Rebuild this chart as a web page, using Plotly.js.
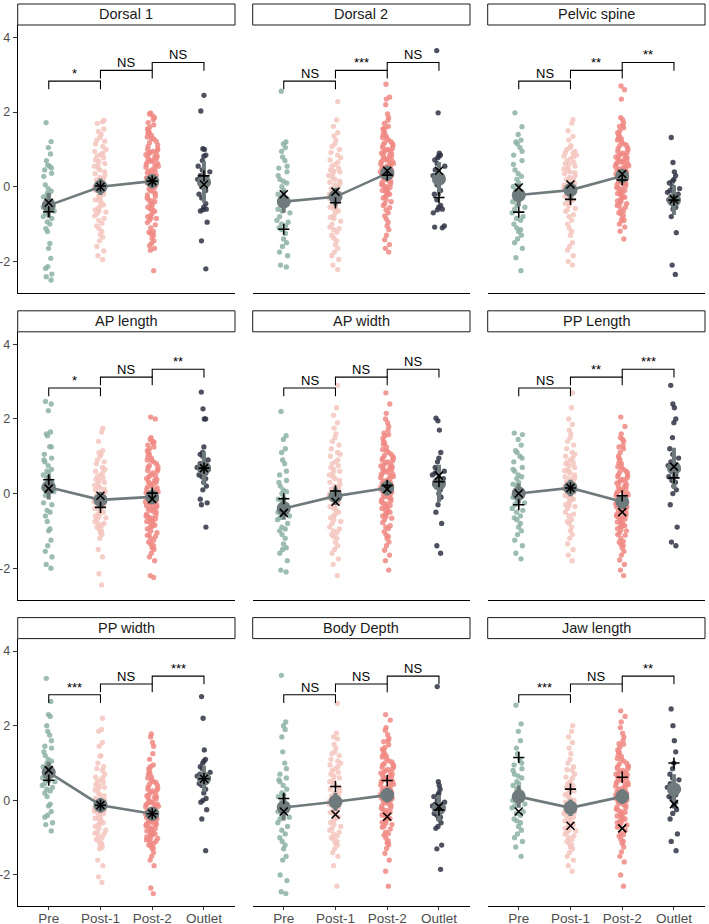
<!DOCTYPE html>
<html>
<head>
<meta charset="utf-8">
<script src="https://cdn.plot.ly/plotly-3.0.1.min.js"></script>
<style>
  html, body { margin: 0; padding: 0; background: #ffffff; }
  #chart { width: 709px; height: 924px; }
</style>
</head>
<body>
<div id="chart"></div>
<script>
// ---- categories and panel names ----
const groups = ['Pre', 'Post-1', 'Post-2', 'Outlet'];
const panelTitles = ['Dorsal 1', 'Dorsal 2', 'Pelvic spine',
                     'AP length', 'AP width', 'PP Length',
                     'PP width', 'Body Depth', 'Jaw length'];
const yTickVals = [-2, 0, 2, 4];
const yTickText = ['-2', '0', '2', '4'];

// ---- individual standardised measurements ----
const dorsal1_pre = [1.72,1.21,1.05,0.88,0.7,0.58,0.55,0.5,0.45,0.36,0.28,0.05,-0.05,-0.12,-0.18,-0.22,-0.27,-0.3,-0.36,-0.4,-0.45,-0.5,-0.55,-0.58,-0.65,-0.71,-0.8,-0.85,-0.94,-1.0,-1.12,-1.2,-1.52,-1.65,-1.92,-2.14,-2.19,-2.34,-2.41,-2.5];
const dorsal1_post1 = [1.78,1.74,1.7,1.55,1.48,1.4,1.32,1.22,1.15,1.08,1.0,0.95,0.9,0.86,0.82,0.78,0.72,0.68,0.62,0.58,0.5,0.45,0.4,0.35,0.3,0.22,0.18,0.12,0.08,0.03,-0.02,-0.06,-0.1,-0.15,-0.2,-0.25,-0.3,-0.36,-0.42,-0.48,-0.52,-0.58,-0.62,-0.68,-0.72,-0.78,-0.85,-0.9,-0.98,-1.05,-1.12,-1.2,-1.28,-1.35,-1.45,-1.6,-1.72,-1.85,-1.95,0.25,0.55,-0.35,0.0,1.25,-0.65];
const dorsal1_post2 = [1.98,1.95,1.9,1.85,1.8,1.72,1.66,1.6,1.55,1.5,1.45,1.42,1.38,1.33,1.28,1.22,1.18,1.12,1.08,1.02,0.98,0.95,0.9,0.86,0.82,0.78,0.75,0.7,0.66,0.62,0.58,0.55,0.5,0.46,0.42,0.38,0.35,0.3,0.26,0.22,0.18,0.15,0.1,0.06,0.02,-0.02,-0.06,-0.1,-0.14,-0.18,-0.22,-0.26,-0.3,-0.35,-0.4,-0.45,-0.5,-0.55,-0.6,-0.66,-0.72,-0.78,-0.84,-0.9,-0.96,-1.02,-1.1,-1.2,-1.25,-1.3,-1.38,-1.45,-1.52,-1.58,-1.65,-1.7,-2.25,0.72,0.88,1.0,0.52,0.4,0.24,0.68,0.92,1.3,-0.8,-0.85,-1.22,0.6,0.8,-0.38,-0.62];
const dorsal1_outlet = [2.45,2.03,1.02,1.0,0.85,0.82,0.7,0.55,0.45,0.4,0.3,0.2,0.1,0.0,-0.1,-0.2,-0.3,-0.45,-0.55,-0.6,-0.65,-0.62,-0.95,-1.45,-2.2];

const dorsal2_pre = [2.56,1.2,1.15,1.05,0.95,0.8,0.7,0.55,0.5,0.4,0.3,0.2,0.1,0.0,-0.1,-0.2,-0.3,-0.4,-0.5,-0.6,-0.7,-0.8,-0.9,-1.0,-1.05,-1.15,-1.25,-1.4,-1.5,-1.6,-1.75,-1.85,-2.1,-2.15,-0.25,-0.45,-0.65,-1.1,-0.95,0.15];
const dorsal2_post1 = [2.28,1.79,1.62,1.45,1.36,1.25,1.15,1.08,1.0,0.92,0.85,0.78,0.72,0.66,0.6,0.55,0.5,0.45,0.4,0.35,0.3,0.25,0.2,0.15,0.1,0.05,0.0,-0.05,-0.1,-0.15,-0.2,-0.25,-0.3,-0.35,-0.4,-0.45,-0.5,-0.55,-0.6,-0.65,-0.7,-0.78,-0.85,-0.92,-1.0,-1.08,-1.15,-1.22,-1.3,-1.38,-1.45,-1.55,-1.65,-1.75,-1.85,-1.95,-2.1,-2.22,0.42,0.12,-0.32,-0.58,-0.82,-1.12,-0.18];
const dorsal2_post2 = [2.75,2.4,2.35,2.2,1.95,1.85,1.78,1.7,1.62,1.55,1.5,1.45,1.4,1.35,1.3,1.25,1.2,1.15,1.1,1.05,1.0,0.96,0.92,0.88,0.84,0.8,0.76,0.72,0.68,0.64,0.6,0.56,0.52,0.48,0.44,0.4,0.36,0.32,0.28,0.24,0.2,0.16,0.12,0.08,0.04,0.0,-0.04,-0.08,-0.12,-0.16,-0.2,-0.25,-0.3,-0.35,-0.4,-0.45,-0.5,-0.56,-0.62,-0.7,-0.78,-0.86,-0.95,-1.05,-1.15,-1.3,-1.42,-1.55,-1.65,-1.75,0.9,1.02,0.66,0.58,0.46,0.34,0.5,0.7,0.82,1.18,1.32,0.14,0.26,-0.1,-0.22,0.62,0.74,0.98,1.12,0.38,0.3,-0.02,0.06,1.58,0.42];
const dorsal2_outlet = [3.65,1.98,0.85,0.82,0.78,0.72,0.62,0.55,0.45,0.3,0.2,0.05,-0.1,-0.2,-0.35,-0.5,-0.55,-0.6,-0.62,-0.7,-1.05,-1.08,-1.1,0.9];

const pelvic_pre = [1.98,1.61,1.4,1.25,1.2,1.15,1.05,0.85,0.6,0.45,0.35,0.2,0.1,0.0,-0.1,-0.2,-0.3,-0.4,-0.5,-0.6,-0.7,-0.8,-0.9,-1.0,-1.15,-1.3,-1.4,-1.5,-1.65,-1.9,-2.25,0.95,0.7,-0.15,-0.35,-0.55,-0.85,-1.2,-1.1,0.28];
const pelvic_post1 = [1.8,1.7,1.5,1.35,1.25,1.1,1.05,1.0,0.95,0.9,0.85,0.8,0.75,0.7,0.65,0.6,0.55,0.5,0.45,0.4,0.35,0.3,0.25,0.2,0.15,0.1,0.05,0.0,-0.05,-0.1,-0.15,-0.2,-0.25,-0.3,-0.35,-0.4,-0.45,-0.5,-0.58,-0.66,-0.75,-0.8,-0.9,-1.0,-1.1,-1.2,-1.3,-1.5,-1.6,-1.7,-1.85,-2.0,-2.1,0.62,0.38,0.12,-0.12,0.48,0.22,-0.28,0.82,-0.02,0.92,-0.42,-0.62];
const pelvic_post2 = [2.7,2.6,2.35,1.85,1.8,1.72,1.65,1.58,1.5,1.45,1.4,1.35,1.3,1.25,1.2,1.15,1.1,1.05,1.0,0.95,0.9,0.86,0.82,0.78,0.74,0.7,0.66,0.62,0.58,0.54,0.5,0.46,0.42,0.38,0.34,0.3,0.26,0.22,0.18,0.14,0.1,0.06,0.02,-0.02,-0.06,-0.1,-0.14,-0.18,-0.22,-0.26,-0.3,-0.35,-0.4,-0.45,-0.5,-0.55,-0.6,-0.66,-0.72,-0.78,-0.85,-0.92,-1.0,-1.08,-1.19,-1.4,0.4,0.52,0.64,0.76,0.88,1.02,0.32,0.2,0.08,-0.04,-0.16,-0.28,0.44,0.56,0.68,0.8,0.92,1.12,1.28,-0.38,-0.48,-0.7,-0.9,0.12,0.28,0.48,0.6,0.72,1.62];
const pelvic_outlet = [1.32,0.65,0.4,0.3,0.2,0.1,0.0,-0.1,-0.2,-0.25,-0.3,-0.35,-0.4,-0.45,-0.5,-0.55,-0.6,-0.8,-1.23,-2.1,-2.35,-0.15,-0.05,0.15];

const apLength_pre = [2.47,2.4,2.22,1.65,1.6,1.55,1.26,1.25,0.95,0.9,0.75,0.6,0.5,0.35,0.2,0.1,-0.25,-0.45,-0.5,-0.75,-0.95,-1.0,-1.25,-1.4,-1.55,-1.7,-1.9,-2.0,0.55,0.42,0.3,0.25,0.15,0.05,-0.05,-0.6,0.85,1.05,-0.3,0.65];
const apLength_post1 = [1.75,1.65,1.4,1.15,1.1,1.0,0.9,0.8,0.7,0.6,0.5,0.42,0.35,0.28,0.2,0.12,0.05,0.0,-0.05,-0.1,-0.15,-0.2,-0.25,-0.3,-0.35,-0.4,-0.45,-0.5,-0.55,-0.6,-0.65,-0.7,-0.75,-0.8,-0.85,-0.9,-0.95,-1.0,-1.1,-1.2,-1.5,-1.7,-2.15,-2.45,0.3,0.22,0.1,-0.02,-0.12,-0.22,-0.32,0.45,0.65,0.85,-0.42,-0.62,-0.82,1.05,0.15,-0.08,0.38,0.55,-0.28,-1.05,-0.52];
const apLength_post2 = [2.05,2.0,1.5,1.45,1.4,1.35,1.3,1.25,1.2,1.15,1.1,1.05,1.0,0.95,0.9,0.85,0.8,0.75,0.7,0.65,0.6,0.55,0.5,0.45,0.4,0.35,0.3,0.25,0.2,0.15,0.1,0.05,0.0,-0.05,-0.1,-0.15,-0.2,-0.25,-0.3,-0.35,-0.4,-0.45,-0.5,-0.55,-0.6,-0.65,-0.7,-0.75,-0.8,-0.85,-0.9,-0.95,-1.0,-1.05,-1.1,-1.15,-1.2,-1.25,-1.3,-1.35,-1.4,-1.5,-1.6,-1.7,-1.8,-2.2,-2.25,0.62,0.48,0.32,0.18,0.02,-0.12,-0.28,-0.42,-0.58,-0.72,-0.88,0.88,0.72,0.38,-0.18,-0.32,-0.48,-0.62,-0.78,-1.12,-0.02,0.12,0.28,-0.22,-0.38,-0.68,-1.45,1.38];
const apLength_outlet = [2.72,2.27,2.0,2.0,1.25,1.1,1.05,1.0,0.9,0.8,0.7,0.6,0.5,0.4,0.3,0.1,-0.15,-0.25,-0.3,-0.9,0.65,0.55,0.45,0.2];

const apWidth_pre = [2.2,1.55,1.45,1.2,1.1,0.9,0.8,0.6,0.5,0.35,0.2,0.1,0.0,-0.1,-0.2,-0.3,-0.4,-0.5,-0.6,-0.7,-0.8,-0.9,-1.0,-1.1,-1.2,-1.35,-1.5,-1.6,-1.8,-2.05,-2.1,-0.45,-0.55,-0.65,-0.25,-0.15,0.05,-1.45,-0.95,0.3];
const apWidth_post1 = [2.9,2.3,2.1,1.9,1.75,1.6,1.5,1.4,1.3,1.2,1.1,1.0,0.9,0.8,0.7,0.6,0.5,0.4,0.3,0.2,0.1,0.0,-0.1,-0.2,-0.3,-0.4,-0.5,-0.6,-0.7,-0.8,-0.9,-1.0,-1.1,-1.2,-1.3,-1.4,-1.5,-1.6,-1.75,-1.9,-2.2,0.45,0.25,0.05,-0.15,-0.35,-0.55,0.65,0.85,-0.05,-0.25,-0.45,-0.75,0.15,0.35,-0.65,-0.95,1.05,-1.15,0.55,-0.02,0.12,-0.32,-1.05,0.75];
const apWidth_post2 = [2.7,2.4,2.15,2.0,1.9,1.8,1.7,1.62,1.55,1.48,1.4,1.32,1.25,1.18,1.1,1.02,0.95,0.88,0.82,0.76,0.7,0.64,0.58,0.52,0.46,0.4,0.34,0.28,0.22,0.16,0.1,0.04,-0.02,-0.08,-0.14,-0.2,-0.26,-0.32,-0.38,-0.44,-0.5,-0.56,-0.62,-0.7,-0.78,-0.86,-0.94,-1.02,-1.1,-1.2,-1.3,-1.4,-1.52,-1.65,-1.8,-2.05,0.3,0.42,0.54,0.66,0.78,0.9,1.05,0.2,0.08,-0.04,-0.16,-0.28,-0.4,0.36,0.48,0.6,0.72,0.85,0.98,1.15,-0.52,-0.66,-0.9,0.12,0.26,-0.1,-0.22,0.5,0.62,0.74,1.36,1.58,-0.34,-1.15,-0.46,0.02,0.14,0.94,-0.6];
const apWidth_outlet = [2.02,1.95,1.7,1.1,0.95,0.85,0.7,0.6,0.5,0.4,0.35,0.3,0.2,0.1,0.0,-0.1,-0.3,-0.5,-0.8,-1.4,-1.6,0.55,0.25,0.65];

const ppLength_pre = [1.62,1.58,1.45,1.3,1.15,1.0,0.85,0.7,0.6,0.5,0.4,0.3,0.2,0.1,0.0,-0.1,-0.2,-0.3,-0.4,-0.5,-0.6,-0.7,-0.8,-0.9,-1.0,-1.1,-1.25,-1.4,-1.6,-1.75,0.25,0.05,-0.05,-0.25,0.45,0.65,-0.45,-0.65,0.95,1.1];
const ppLength_post1 = [2.7,2.3,2.0,1.85,1.7,1.6,1.5,1.4,1.3,1.2,1.1,1.0,0.95,0.9,0.85,0.8,0.75,0.7,0.65,0.6,0.55,0.5,0.45,0.4,0.35,0.3,0.25,0.2,0.15,0.1,0.05,0.0,-0.05,-0.1,-0.15,-0.2,-0.25,-0.3,-0.35,-0.4,-0.5,-0.6,-0.7,-0.8,-0.9,-1.0,-1.1,-1.2,-1.35,-1.5,-1.65,-1.8,0.42,0.22,0.02,-0.12,-0.32,0.62,0.82,-0.55,-0.75,0.32,0.12,-0.02,1.05];
const ppLength_post2 = [2.05,1.8,1.6,1.5,1.4,1.3,1.2,1.1,1.0,0.9,0.8,0.72,0.65,0.58,0.5,0.42,0.35,0.28,0.2,0.12,0.05,-0.02,-0.1,-0.16,-0.22,-0.28,-0.34,-0.4,-0.46,-0.52,-0.58,-0.64,-0.7,-0.76,-0.82,-0.88,-0.94,-1.0,-1.06,-1.12,-1.2,-1.28,-1.36,-1.45,-1.55,-1.65,-1.78,-1.9,-2.05,-2.2,0.6,0.45,0.3,0.15,0.0,-0.12,-0.25,-0.38,-0.5,-0.62,-0.74,-0.86,-0.98,0.95,0.82,0.7,0.38,0.24,0.08,-0.06,-0.2,-0.32,-0.44,-0.56,-0.68,-1.1,-1.3,0.55,0.18,-0.04,-0.3,-0.6,-0.9,1.25,0.48,0.1,-0.14,-0.36,-0.8,-1.4,0.32,-0.48,0.02,-0.26,1.45];
const ppLength_outlet = [2.9,2.4,2.3,2.0,1.9,1.5,1.2,1.05,0.95,0.85,0.75,0.6,0.5,0.45,0.35,0.2,0.1,0.0,-0.3,-0.9,-1.3,-1.4,0.65,0.3];

const ppWidth_pre = [3.27,2.65,2.3,2.25,2.0,1.85,1.75,1.6,1.45,1.4,1.2,1.05,1.0,0.9,0.8,0.7,0.6,0.5,0.4,0.3,0.2,0.1,-0.1,-0.15,-0.3,-0.4,-0.45,-0.6,-0.65,-0.82,0.95,0.85,0.75,0.65,0.55,0.35,1.1,1.3,0.25,0.45];
const ppWidth_post1 = [2.2,1.9,1.85,1.55,1.45,1.2,1.18,1.0,0.9,0.8,0.7,0.6,0.5,0.42,0.35,0.28,0.2,0.12,0.05,0.0,-0.05,-0.1,-0.15,-0.2,-0.25,-0.3,-0.35,-0.4,-0.45,-0.5,-0.55,-0.6,-0.65,-0.7,-0.75,-0.8,-0.85,-0.9,-0.95,-1.0,-1.05,-1.1,-1.15,-1.2,-1.25,-1.3,-1.6,-1.75,-2.05,-2.2,0.62,0.48,0.32,0.15,-0.02,-0.18,-0.32,-0.48,-0.62,0.85,0.55,0.38,-0.08,-0.28,-0.88];
const ppWidth_post2 = [1.78,1.7,1.55,1.45,1.25,1.1,0.95,0.85,0.78,0.7,0.62,0.55,0.48,0.4,0.32,0.25,0.18,0.1,0.04,-0.02,-0.08,-0.14,-0.2,-0.26,-0.32,-0.38,-0.44,-0.5,-0.56,-0.62,-0.68,-0.74,-0.8,-0.86,-0.92,-0.98,-1.04,-1.1,-1.16,-1.22,-1.3,-1.4,-1.5,-1.6,-1.75,-2.35,-2.5,0.5,0.36,0.22,0.08,-0.06,-0.18,-0.3,-0.42,-0.54,-0.66,-0.78,-0.9,-1.02,0.6,0.44,0.28,0.12,-0.04,-0.16,-0.28,-0.4,-0.52,-0.64,-0.76,-0.88,-1.0,-1.12,0.72,0.15,-0.1,-0.34,-0.58,-0.82,-1.06,-1.2,0.3,-0.22,-0.46,-0.7,-0.94,0.05,-0.36,-0.6,-1.28,0.9,-0.12];
const ppWidth_outlet = [2.78,2.2,1.35,1.1,1.05,1.0,0.9,0.75,0.6,0.5,0.4,0.3,0.2,0.05,0.0,-0.05,-0.25,-0.5,-1.35,0.85,0.65,0.55,0.45,0.7];

const bodyDepth_pre = [3.35,2.1,2.0,1.9,1.7,1.3,1.0,0.85,0.7,0.6,0.55,0.5,0.3,0.2,0.0,-0.2,-0.4,-0.5,-0.6,-0.8,-0.9,-1.1,-1.2,-1.5,-1.6,-2.0,-2.15,-2.5,-2.45,-0.1,-0.3,0.1,-0.7,-1.0,0.4,-0.05,-0.25,-0.45,0.15,-1.3];
const bodyDepth_post1 = [2.6,1.8,1.7,1.65,1.5,1.4,1.3,1.2,1.1,1.0,0.9,0.8,0.7,0.6,0.5,0.4,0.3,0.2,0.1,0.0,-0.1,-0.2,-0.3,-0.4,-0.5,-0.6,-0.7,-0.8,-0.9,-1.0,-1.1,-1.2,-1.3,-1.4,-1.5,-1.75,-2.3,0.45,0.25,0.05,-0.15,-0.35,-0.55,0.65,0.85,-0.05,-0.25,-0.45,-0.75,0.15,0.35,-0.65,-0.95,1.05,-1.15,0.55,-0.02,0.12,-0.32,-1.05,0.75,0.95,-0.85,1.25,-0.12];
const bodyDepth_post2 = [2.3,2.15,1.95,1.88,1.76,1.66,1.57,1.49,1.41,1.33,1.26,1.19,1.11,1.03,0.96,0.89,0.83,0.77,0.71,0.65,0.59,0.53,0.47,0.41,0.35,0.29,0.23,0.17,0.11,0.05,-0.01,-0.07,-0.13,-0.19,-0.25,-0.31,-0.37,-0.43,-0.49,-0.55,-0.61,-0.69,-0.77,-0.85,-0.93,-1.01,-1.09,-1.19,-1.29,-1.42,-1.6,-1.9,-2.3,0.31,0.43,0.55,0.67,0.79,0.91,1.06,0.21,0.09,-0.03,-0.15,-0.27,-0.39,0.37,0.49,0.61,0.73,0.86,0.99,1.16,-0.51,-0.65,-0.89,0.13,0.27,-0.09,-0.21,0.51,0.63,0.75,1.37,1.6,-0.33,-1.14,-0.45,0.03,0.15,0.95,-0.59,1.22,0.06,-0.72];
const bodyDepth_outlet = [3.05,0.5,0.4,0.3,0.15,0.0,-0.1,-0.2,-0.4,-0.6,-0.7,-0.75,-1.2,-1.3,-1.85,-0.05,-0.15,-0.25,-0.3,-0.35,0.1,0.2,-0.45,-0.5];

const jaw_pre = [2.55,2.05,1.85,1.6,1.4,1.25,1.1,0.95,0.8,0.7,0.6,0.5,0.4,0.3,0.2,0.1,0.0,-0.1,-0.2,-0.3,-0.4,-0.5,-0.6,-0.7,-0.8,-0.9,-1.0,-1.1,-1.25,-1.5,0.25,0.05,-0.15,-0.35,0.45,0.65,-0.55,0.85,1.0,-0.05];
const jaw_post1 = [2.0,1.85,1.7,1.55,1.4,1.25,1.1,1.0,0.9,0.8,0.7,0.6,0.5,0.4,0.3,0.2,0.1,0.0,-0.1,-0.2,-0.3,-0.4,-0.5,-0.6,-0.7,-0.8,-0.9,-1.0,-1.1,-1.2,-1.3,-1.4,-1.5,-1.6,-1.75,-1.9,-0.15,-0.25,-0.35,-0.45,-0.55,-0.65,-0.75,-0.85,-0.95,0.05,0.15,0.25,0.35,0.45,-0.05,-0.12,-0.22,-0.32,-0.42,-0.62,-0.82,-1.05,-1.25,0.62,0.82,-0.28,-0.48,-0.68,-1.15];
const jaw_post2 = [2.4,2.25,2.1,1.95,1.8,1.7,1.6,1.5,1.42,1.35,1.28,1.2,1.12,1.05,0.98,0.9,0.84,0.78,0.72,0.66,0.6,0.54,0.48,0.42,0.36,0.3,0.24,0.18,0.12,0.06,0.0,-0.06,-0.12,-0.18,-0.24,-0.3,-0.36,-0.42,-0.48,-0.54,-0.6,-0.66,-0.72,-0.8,-0.88,-0.96,-1.05,-1.15,-1.25,-1.38,-1.5,-1.65,-2.0,-2.3,0.26,0.38,0.5,0.62,0.74,0.86,1.0,0.16,0.04,-0.08,-0.2,-0.32,-0.44,0.32,0.44,0.56,0.68,0.8,0.92,1.1,-0.56,-0.7,-0.92,0.1,0.22,-0.14,-0.26,0.46,0.58,0.7,1.3,1.52,-0.38,-1.1,-0.5,0.0,0.14,0.9,-0.62,1.18,-0.02];
const jaw_outlet = [2.45,2.0,1.6,1.3,1.0,0.85,0.7,0.55,0.45,0.35,0.25,0.15,0.05,-0.05,-0.15,-0.25,-0.5,-0.9,-1.1,-1.35,0.6,0.3,0.1,-0.35];

// ---- group summaries: mean, 95% CI half-width, and the two subgroup means (+ and x) ----
const groupMeans = [
  [-0.5, 0.0, 0.15, 0.13],
  [-0.4, -0.27, 0.36, 0.21],
  [-0.22, -0.09, 0.29, -0.36],
  [0.17, -0.17, -0.09, 0.68],
  [-0.4, -0.07, 0.15, 0.27],
  [0.0, 0.15, -0.22, 0.68],
  [0.75, -0.13, -0.36, 0.58],
  [-0.19, -0.04, 0.14, -0.21],
  [0.1, -0.2, 0.1, 0.3]
];
const ciHalfWidths = [
  [0.33, 0.22, 0.19, 0.55],
  [0.3, 0.24, 0.2, 0.45],
  [0.3, 0.22, 0.19, 0.4],
  [0.33, 0.22, 0.2, 0.45],
  [0.3, 0.24, 0.2, 0.5],
  [0.27, 0.22, 0.19, 0.55],
  [0.28, 0.2, 0.18, 0.35],
  [0.35, 0.24, 0.2, 0.35],
  [0.3, 0.22, 0.2, 0.4]
];
const plusMeans = [
  [-0.67, 0.02, 0.15, 0.29],
  [-1.14, -0.43, 0.31, -0.29],
  [-0.68, -0.34, 0.18, -0.36],
  [0.37, -0.37, 0.01, 0.68],
  [-0.14, 0.07, 0.22, 0.32],
  [-0.3, 0.15, -0.06, 0.42],
  [0.54, -0.13, -0.36, 0.58],
  [0.05, 0.37, 0.53, -0.26],
  [1.15, 0.3, 0.62, 1.0]
];
const crossMeans = [
  [-0.43, 0.0, 0.15, 0.06],
  [-0.2, -0.13, 0.43, 0.43],
  [-0.02, 0.06, 0.34, -0.34],
  [0.13, -0.06, -0.15, 0.68],
  [-0.52, -0.22, 0.12, 0.48],
  [0.0, 0.15, -0.5, 0.72],
  [0.81, -0.13, -0.36, 0.58],
  [-0.3, -0.38, -0.44, -0.17],
  [-0.3, -0.68, -0.75, -0.1]
];
// pairwise test results: Pre vs Post-1, Post-1 vs Post-2, Post-2 vs Outlet
const signifLabels = [
  ['*', 'NS', 'NS'],
  ['NS', '***', 'NS'],
  ['NS', '**', '**'],
  ['*', 'NS', '**'],
  ['NS', 'NS', 'NS'],
  ['NS', '**', '***'],
  ['***', 'NS', '***'],
  ['NS', 'NS', 'NS'],
  ['***', 'NS', '**']
];

const panelValues = [
  [dorsal1_pre, dorsal1_post1, dorsal1_post2, dorsal1_outlet],
  [dorsal2_pre, dorsal2_post1, dorsal2_post2, dorsal2_outlet],
  [pelvic_pre, pelvic_post1, pelvic_post2, pelvic_outlet],
  [apLength_pre, apLength_post1, apLength_post2, apLength_outlet],
  [apWidth_pre, apWidth_post1, apWidth_post2, apWidth_outlet],
  [ppLength_pre, ppLength_post1, ppLength_post2, ppLength_outlet],
  [ppWidth_pre, ppWidth_post1, ppWidth_post2, ppWidth_outlet],
  [bodyDepth_pre, bodyDepth_post1, bodyDepth_post2, bodyDepth_outlet],
  [jaw_pre, jaw_post1, jaw_post2, jaw_outlet]
];

// ---- styling / geometry ----
const FONT = 'Liberation Sans, Arial, Helvetica, sans-serif';
const groupColors = ['#8db2a3', '#f5c5be', '#f08883', '#2f3243'];
const summaryGrey = '#6e7a7b';
const W = 709, H = 924;
const colLeft = [17.7, 252.7, 487.7];
const colWidth = 217.3;
const rowTop = [25, 331.8, 638.6];
const rowHeight = 267.7;
const stripHeight = 21;
const yRange = [-2.84, 4.335];
const xRange = [-0.6, 3.6];
const bracketLevels = [2.83, 3.12, 3.33];
const bracketDrop = 0.22;

const traces = [];
const annotations = [];
const shapes = [];
const layout = {
  width: W, height: H,
  margin: { l: 0, r: 0, t: 0, b: 0, pad: 0 },
  paper_bgcolor: '#ffffff',
  plot_bgcolor: '#ffffff',
  showlegend: false,
  font: { family: FONT, color: '#4d4d4d' },
  boxmode: 'overlay'
};

panelTitles.forEach((title, p) => {
  const r = Math.floor(p / 3), c = p % 3;
  const suffix = p === 0 ? '' : String(p + 1);
  const xa = 'x' + suffix, ya = 'y' + suffix;
  const bottomRow = r === 2, leftCol = c === 0;

  layout['xaxis' + suffix] = {
    domain: [colLeft[c] / W, (colLeft[c] + colWidth) / W],
    anchor: ya,
    type: 'category',
    categoryorder: 'array',
    categoryarray: groups,
    range: xRange,
    showline: true, linecolor: '#000000', linewidth: 1,
    showgrid: false, zeroline: false,
    ticks: bottomRow ? 'outside' : '',
    ticklen: 3, tickwidth: 1, tickcolor: '#333333',
    ticklabelstandoff: -4,
    showticklabels: bottomRow,
    tickfont: { family: FONT, size: 13.5, color: '#4d4d4d' },
    automargin: false, fixedrange: true
  };
  layout['yaxis' + suffix] = {
    domain: [1 - (rowTop[r] + rowHeight) / H, 1 - rowTop[r] / H],
    anchor: xa,
    range: yRange,
    tickmode: 'array', tickvals: yTickVals, ticktext: yTickText,
    showline: leftCol, linecolor: '#000000', linewidth: 1,
    showgrid: false, zeroline: false,
    ticks: leftCol ? 'outside' : '',
    ticklen: 4, tickwidth: 1, tickcolor: '#333333',
    showticklabels: leftCol,
    tickfont: { family: FONT, size: 12.5, color: '#4d4d4d' },
    automargin: false, fixedrange: true
  };

  // jittered individual points
  groups.forEach((g, i) => {
    const vals = panelValues[p][i];
    traces.push({
      type: 'box', xaxis: xa, yaxis: ya,
      x: vals.map(() => g), y: vals,
      boxpoints: 'all', jitter: 0.9, pointpos: 0, width: 0.3,
      fillcolor: 'rgba(0,0,0,0)',
      line: { width: 0, color: 'rgba(0,0,0,0)' },
      whiskerwidth: 0,
      marker: { color: groupColors[i], size: 5.3, opacity: 0.85, line: { width: 0 } },
      hoverinfo: 'skip', showlegend: false
    });
  });

  // significance brackets
  const bx = [], by = [];
  for (let k = 0; k < 3; k++) {
    const lv = bracketLevels[k];
    bx.push(groups[k], groups[k], groups[k + 1], groups[k + 1], null);
    by.push(lv - bracketDrop, lv, lv, lv - bracketDrop, null);
    annotations.push({
      xref: xa, yref: ya, x: k + 0.5, y: lv,
      text: signifLabels[p][k], showarrow: false,
      yanchor: 'bottom', yshift: -2,
      font: { family: FONT, size: 13, color: '#000000' }
    });
  }
  traces.push({
    type: 'scatter', mode: 'lines', xaxis: xa, yaxis: ya,
    x: bx, y: by, connectgaps: false,
    line: { color: '#000000', width: 1.1 },
    hoverinfo: 'skip', showlegend: false
  });

  // line joining the three sampling-time means
  traces.push({
    type: 'scatter', mode: 'lines', xaxis: xa, yaxis: ya,
    x: groups.slice(0, 3), y: groupMeans[p].slice(0, 3),
    line: { color: summaryGrey, width: 2.6 },
    hoverinfo: 'skip', showlegend: false
  });
  // group means with 95% CI
  traces.push({
    type: 'scatter', mode: 'markers', xaxis: xa, yaxis: ya,
    x: groups, y: groupMeans[p],
    error_y: { type: 'data', array: ciHalfWidths[p], visible: true,
               thickness: 4, width: 0, color: summaryGrey },
    marker: { color: summaryGrey, size: 14, line: { width: 0 } },
    hoverinfo: 'skip', showlegend: false
  });
  // subgroup means
  traces.push({
    type: 'scatter', mode: 'markers', xaxis: xa, yaxis: ya,
    x: groups, y: plusMeans[p],
    marker: { symbol: 'cross-thin', size: 8, color: '#000000',
              line: { color: '#000000', width: 1.6 } },
    hoverinfo: 'skip', showlegend: false
  });
  traces.push({
    type: 'scatter', mode: 'markers', xaxis: xa, yaxis: ya,
    x: groups, y: crossMeans[p],
    marker: { symbol: 'x-thin', size: 8, color: '#000000',
              line: { color: '#000000', width: 1.6 } },
    hoverinfo: 'skip', showlegend: false
  });

  // facet strip
  const sTop = rowTop[r] - stripHeight;
  shapes.push({
    type: 'rect', xref: 'paper', yref: 'paper',
    x0: colLeft[c] / W, x1: (colLeft[c] + colWidth) / W,
    y0: 1 - rowTop[r] / H, y1: 1 - sTop / H,
    line: { color: '#1a1a1a', width: 1 }, fillcolor: '#ffffff', layer: 'above'
  });
  annotations.push({
    xref: 'paper', yref: 'paper',
    x: (colLeft[c] + colWidth / 2) / W, y: 1 - (sTop + stripHeight / 2) / H,
    xanchor: 'center', yanchor: 'middle',
    text: title, showarrow: false,
    font: { family: FONT, size: 14.5, color: '#1a1a1a' }
  });
});

layout.annotations = annotations;
layout.shapes = shapes;

Plotly.newPlot('chart', traces, layout, { staticPlot: true, displayModeBar: false });
</script>
</body>
</html>
